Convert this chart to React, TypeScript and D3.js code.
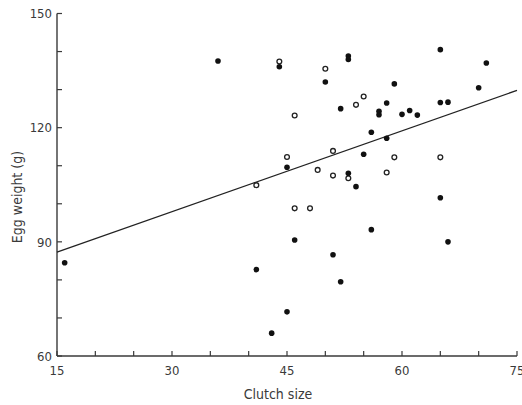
import * as d3 from 'd3';

// clutch size vs egg weight
const filledX = [16, 36, 44, 50, 53, 53, 52, 65, 71, 70, 59, 58, 57, 57, 60, 61, 62, 65, 66, 56, 58, 55, 45, 53, 54, 65, 56, 46, 66, 51, 41, 52, 45, 43];
const filledY = [84.5, 137.5, 136, 132, 138.8, 137.9, 125, 140.5, 137, 130.5, 131.5, 126.5, 124.3, 123.4, 123.5, 124.5, 123.3, 126.6, 126.7, 118.8, 117.2, 113, 109.6, 108, 104.5, 101.6, 93.2, 90.5, 90, 86.6, 82.7, 79.5, 71.6, 66];
const openX = [44, 50, 55, 54, 46, 45, 51, 59, 65, 49, 51, 53, 58, 41, 46, 48];
const openY = [137.4, 135.5, 128.2, 126, 123.2, 112.3, 113.9, 112.2, 112.2, 108.9, 107.4, 106.7, 108.2, 104.9, 98.8, 98.8];
const fitX = [15, 75];
const fitY = [87.3, 129.8];
const xTicks = [15, 20, 25, 30, 35, 40, 45, 50, 55, 60, 65, 70, 75];
const xLabels = [15, 30, 45, 60, 75];
const yTicks = [60, 70, 80, 90, 100, 110, 120, 130, 140, 150];
const yLabels = [60, 90, 120, 150];

const W = 522;
const H = 405;
const font = "'DejaVu Sans Condensed', 'DejaVu Sans', sans-serif";
const ink = '#3a3a3a';

export default function App() {
  const x = d3.scaleLinear().domain([15, 75]).range([57, 517]);
  const y = d3.scaleLinear().domain([60, 150]).range([356, 13.5]);
  const line = d3
    .line<number>()
    .x((_, i) => x(fitX[i]))
    .y((d) => y(d));

  return (
    <div style={{ position: 'fixed', left: 0, top: 0 }}>
      <svg width={W} height={H} style={{ display: 'block', background: '#fff' }}>
        {/* axes */}
        <line x1={x(15)} x2={x(15)} y1={y(150)} y2={y(60)} stroke={ink} strokeWidth={1.4} />
        <line x1={x(15)} x2={x(75)} y1={y(60)} y2={y(60)} stroke={ink} strokeWidth={1.4} />
        {yTicks.map((t) => (
          <line key={'yt' + t} x1={x(15)} x2={x(15) + 5} y1={y(t)} y2={y(t)} stroke={ink} strokeWidth={1.2} />
        ))}
        {xTicks.map((t) => (
          <line key={'xt' + t} x1={x(t)} x2={x(t)} y1={y(60)} y2={y(60) - 5} stroke={ink} strokeWidth={1.2} />
        ))}
        {yLabels.map((t) => (
          <text key={'yl' + t} x={x(15) - 5} y={y(t)} dy="0.36em" textAnchor="end" fontFamily={font} fontSize={13} fill={ink}>
            {t}
          </text>
        ))}
        {xLabels.map((t) => (
          <text key={'xl' + t} x={x(t)} y={375} textAnchor="middle" fontFamily={font} fontSize={13} fill={ink}>
            {t}
          </text>
        ))}
        <text x={278} y={399} textAnchor="middle" fontFamily={font} fontSize={14} fill={ink}>
          Clutch size
        </text>
        <text
          transform={`translate(22,197) rotate(-90)`}
          textAnchor="middle"
          fontFamily={font}
          fontSize={14}
          fill={ink}
        >
          Egg weight (g)
        </text>

        {/* regression line */}
        <path d={line(fitY) ?? ''} fill="none" stroke="#222" strokeWidth={1.3} />

        {/* points */}
        {openX.map((v, i) => (
          <circle key={'o' + i} cx={x(v)} cy={y(openY[i])} r={2.4} fill="#fff" stroke="#222" strokeWidth={1.3} />
        ))}
        {filledX.map((v, i) => (
          <circle key={'f' + i} cx={x(v)} cy={y(filledY[i])} r={2.8} fill="#111" />
        ))}
      </svg>
    </div>
  );
}
